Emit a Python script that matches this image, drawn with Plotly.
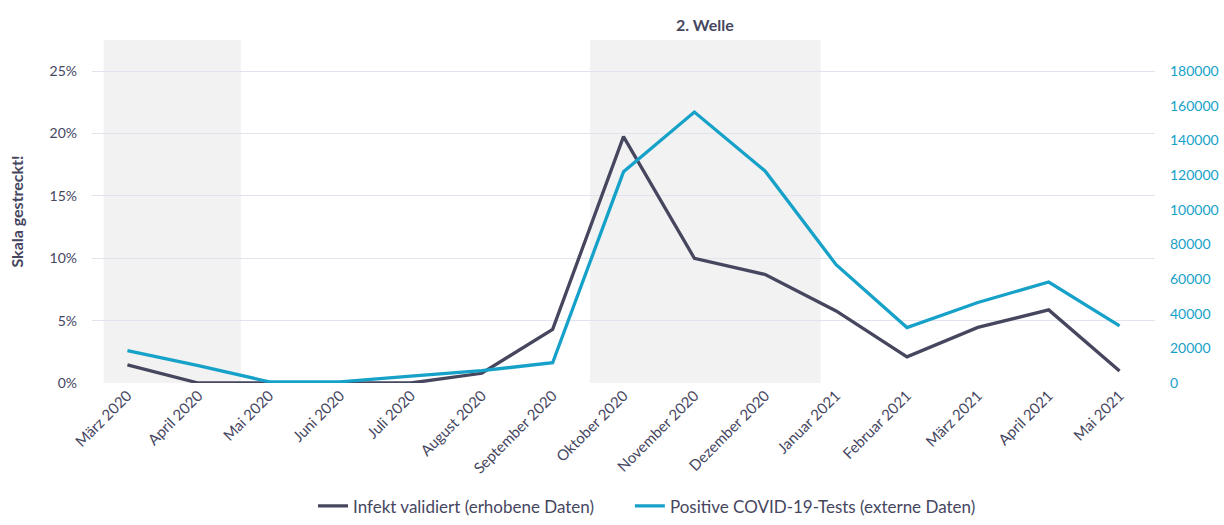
import plotly.graph_objects as go

months = ["März 2020", "April 2020", "Mai 2020", "Juni 2020", "Juli 2020", "August 2020",
          "September 2020", "Oktober 2020", "November 2020", "Dezember 2020", "Januar 2021",
          "Februar 2021", "März 2021", "April 2021", "Mai 2021"]
infekt = [0.0145, 0.0, 0.0, 0.0, 0.0, 0.0078, 0.043, 0.1975, 0.100, 0.087, 0.0578,
          0.021, 0.0446, 0.0586, 0.0096]
tests = [18700, 10000, 700, 700, 4000, 7100, 11700, 121900, 156400, 122300, 68300,
         32000, 46500, 58300, 33000]
right_ticks = [0, 20000, 40000, 60000, 80000, 100000, 120000, 140000, 160000, 180000]
left_ticks = [0, 0.05, 0.10, 0.15, 0.20, 0.25]
left_ticklabels = ["0%", "5%", "10%", "15%", "20%", "25%"]
welle_label = "2. Welle"

DARK = "#46465f"
TEAL = "#16a1c9"
FONT = "Lato"

fig = go.Figure()

# shaded periods
for x0, x1 in [(-0.335, 1.6), (6.53, 9.78)]:
    fig.add_shape(type="rect", xref="x", yref="paper", x0=x0, x1=x1, y0=0, y1=1,
                  fillcolor="#f2f2f2", line_width=0, layer="below")

fig.add_trace(go.Scatter(x=months, y=infekt, mode="lines", name="Infekt validiert (erhobene Daten)",
                         line=dict(color=DARK, width=3.3), yaxis="y", legend="legend"))
fig.add_trace(go.Scatter(x=months, y=tests, mode="lines", name="Positive COVID-19-Tests (externe Daten)",
                         line=dict(color=TEAL, width=3.3), yaxis="y2", legend="legend2"))

fig.add_annotation(text="<b>" + welle_label + "</b>", xref="x", yref="paper", x=8.15, y=1.0,
                   yanchor="bottom", yshift=4, showarrow=False,
                   font=dict(family=FONT, size=16, color=DARK))

legend_common = dict(orientation="h", y=-0.412, yanchor="bottom", xanchor="left",
                     font=dict(family=FONT, size=17, color=DARK), itemwidth=30,
                     bgcolor="rgba(0,0,0,0)")

fig.update_layout(
    width=1224, height=525,
    margin=dict(l=92, r=69, t=40, b=142, autoexpand=False),
    plot_bgcolor="white", paper_bgcolor="white",
    font=dict(family=FONT, size=14, color=DARK),
    showlegend=True,
    legend=dict(x=0.2079, **legend_common),
    legend2=dict(x=0.506, **legend_common),
    xaxis=dict(type="category", range=[-0.5, 14.5], showgrid=False, zeroline=False,
               tickangle=-45, tickfont=dict(family=FONT, size=15, color=DARK),
               ticks="", showline=False, automargin=False),
    yaxis=dict(range=[0, 0.275], tickvals=left_ticks, ticktext=left_ticklabels,
               showgrid=True, gridcolor="#e3e3ee", gridwidth=1, zeroline=False,
               tickfont=dict(family=FONT, size=14, color=DARK), ticklabelstandoff=14,
               automargin=False,
               title=dict(text="<b>Skala gestreckt!</b>", font=dict(family=FONT, size=16, color=DARK),
                          standoff=21)),
    yaxis2=dict(range=[0, 198000], tickvals=right_ticks, overlaying="y", side="right",
                showgrid=False, zeroline=False, tickformat="d", automargin=False,
                tickfont=dict(family=FONT, size=14, color=TEAL), ticklabelstandoff=14),
)

fig.write_html("out.html")
